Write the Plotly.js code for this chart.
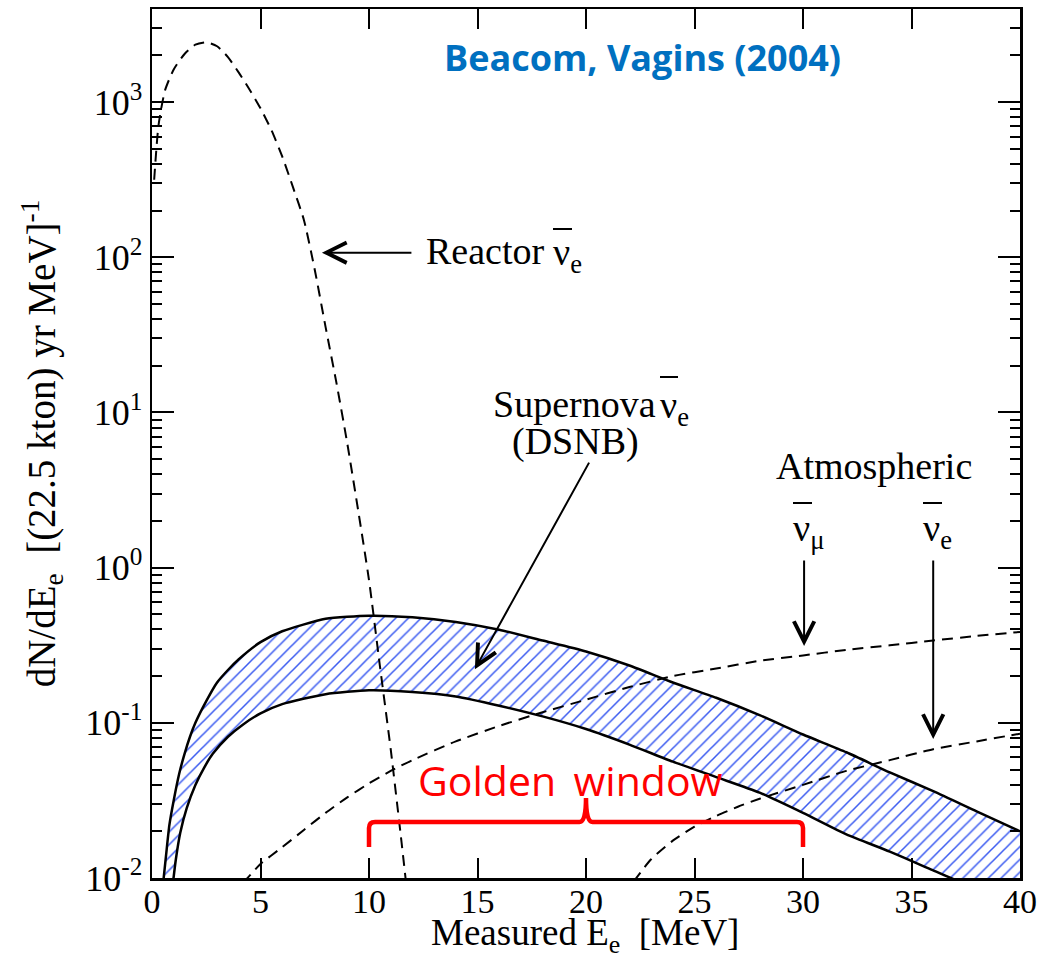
<!DOCTYPE html>
<html>
<head>
<meta charset="utf-8">
<script src="https://cdn.plot.ly/plotly-3.0.1.min.js"></script>
<style>
  html, body { margin: 0; padding: 0; background: #ffffff; }
  #chart { width: 1040px; height: 963px; }
</style>
</head>
<body>
<div id="chart"></div>
<script>
// Positron energy spectra in a 22.5 kton water detector (events / yr / MeV)

// Reactor anti-neutrinos
const reactorEnergy = [0.1, 0.3, 0.6, 1.0, 1.5, 2.0, 2.5, 3.0, 3.5, 4.0, 4.5, 5.0, 5.5, 6.0, 6.5, 7.0, 7.5, 8.0, 8.5, 9.0, 9.5, 10.0, 10.5, 11.0, 11.5, 11.8];
const reactorRate   = [316, 708, 1190, 1622, 2042, 2344, 2427, 2291, 1950, 1549, 1202, 912, 661, 447, 282, 174, 83.2, 35.5, 15.5, 6.31, 2.34, 0.832, 0.234, 0.0676, 0.017, 0.0071];

// Diffuse supernova neutrino background: upper and lower edges of the band
const dsnbHighEnergy = [0.5, 0.65, 0.8, 1.0, 1.25, 1.5, 1.75, 2, 2.5, 3, 3.5, 4, 5, 6, 8, 10, 12, 14, 16, 18, 20, 22, 24, 26, 28, 30, 32, 34, 36, 38, 40];
const dsnbHighRate   = [0.0089, 0.0141, 0.0219, 0.0316, 0.0468, 0.0631, 0.0813, 0.100, 0.138, 0.182, 0.219, 0.257, 0.331, 0.389, 0.468, 0.490, 0.479, 0.447, 0.398, 0.339, 0.288, 0.234, 0.182, 0.145, 0.112, 0.0841, 0.0646, 0.0479, 0.0363, 0.0269, 0.0200];
const dsnbLowEnergy  = [0.95, 1.1, 1.3, 1.6, 2, 2.4, 2.8, 3.5, 4.2, 5, 6, 8, 10, 12, 14, 16, 18, 20, 22, 24, 26, 28, 30, 32, 34, 36, 38, 40];
const dsnbLowRate    = [0.0089, 0.0132, 0.0195, 0.0282, 0.0398, 0.0513, 0.0631, 0.0813, 0.0977, 0.115, 0.132, 0.153, 0.162, 0.158, 0.148, 0.129, 0.110, 0.0912, 0.0724, 0.0562, 0.0447, 0.0355, 0.0263, 0.0191, 0.0148, 0.0112, 0.0085, 0.0066];

// Atmospheric backgrounds
const atmMuEnergy = [4.2, 5, 6, 7, 8, 9, 10, 11, 12, 14, 16, 18, 20, 22, 24, 26, 28, 30, 32, 34, 36, 38, 40];
const atmMuRate   = [0.0093, 0.0123, 0.0158, 0.0204, 0.0263, 0.0331, 0.0407, 0.049, 0.0575, 0.0759, 0.0955, 0.117, 0.141, 0.170, 0.200, 0.224, 0.251, 0.272, 0.295, 0.316, 0.339, 0.363, 0.385];
const atmEEnergy  = [22.2, 23, 24, 25, 26, 27, 28, 30, 32, 34, 36, 38, 40];
const atmERate    = [0.0095, 0.0132, 0.0174, 0.0214, 0.0251, 0.0288, 0.0324, 0.0398, 0.049, 0.0575, 0.0676, 0.0759, 0.0851];

// Energy window free of reactor and atmospheric backgrounds
const goldenWindow = [10, 30];

// Axis ticks
const xTickVals = [0, 5, 10, 15, 20, 25, 30, 35, 40];
const yTickVals = [0.01, 0.1, 1, 10, 100, 1000];
const yTickText = ['10<sup>-2</sup>', '10<sup>-1</sup>', '10<sup>0</sup>', '10<sup>1</sup>', '10<sup>2</sup>', '10<sup>3</sup>'];
const yLogRange = [-2, 3.6];

const minorTicks = [];
for (let d = -2; d <= 3; d++) {
  for (let m = 2; m <= 9; m++) {
    const v = m * Math.pow(10, d);
    if (Math.log10(v) < yLogRange[1]) minorTicks.push(v);
  }
}

const serif = 'Liberation Serif, Times New Roman, serif';
const dashStyle = '11px,7px';

// frame of the plotting area in page pixels, used to place labels
const frame = { left: 152, right: 1020, top: 9, bottom: 878 };
const px = p => (p - frame.left) / (frame.right - frame.left);
const py = p => (frame.bottom - p) / (frame.bottom - frame.top);

const bandX = dsnbHighEnergy.concat(dsnbLowEnergy.slice().reverse());
const bandY = dsnbHighRate.concat(dsnbLowRate.slice().reverse());

const dashed = { color: 'black', width: 2, dash: dashStyle, shape: 'spline', smoothing: 0.6 };
const solid = { color: 'black', width: 2.5, shape: 'spline', smoothing: 0.6 };

const traces = [
  {
    x: bandX, y: bandY, mode: 'lines', fill: 'toself',
    fillcolor: 'rgba(255,255,255,0)',
    fillpattern: { shape: '/', fgcolor: '#3a5af0', bgcolor: 'rgba(255,255,255,0)', size: 9, solidity: 0.17 },
    line: { width: 0 }, hoverinfo: 'skip', showlegend: false
  },
  { x: reactorEnergy, y: reactorRate, mode: 'lines', line: dashed, showlegend: false },
  { x: atmMuEnergy, y: atmMuRate, mode: 'lines', line: dashed, showlegend: false },
  { x: atmEEnergy, y: atmERate, mode: 'lines', line: dashed, showlegend: false },
  { x: dsnbHighEnergy, y: dsnbHighRate, mode: 'lines', line: solid, showlegend: false },
  { x: dsnbLowEnergy, y: dsnbLowRate, mode: 'lines', line: solid, showlegend: false },
  // carrier for the minor-tick axis
  { x: [20], y: [1], yaxis: 'y2', mode: 'none', hoverinfo: 'skip', showlegend: false }
];

// Curly bracket over the golden window (x in MeV, y in paper units)
const gx0 = goldenWindow[0], gx1 = goldenWindow[1], gxm = (gx0 + gx1) / 2;
const yBar = py(822), yEnd = py(847), yTip = py(798), rx = 0.28, ry = 0.007;
const bracketPath =
  `M${gx0},${yEnd} L${gx0},${yBar - ry} Q${gx0},${yBar} ${gx0 + rx},${yBar} ` +
  `L${gxm - 0.3},${yBar} Q${gxm},${yBar} ${gxm},${yTip} Q${gxm},${yBar} ${gxm + 0.3},${yBar} ` +
  `L${gx1 - rx},${yBar} Q${gx1},${yBar} ${gx1},${yBar - ry} L${gx1},${yEnd}`;

// Overbars of the anti-neutrino symbols
const bar = (x0, x1, y) => ({
  type: 'line', xref: 'paper', yref: 'paper',
  x0: px(x0), x1: px(x1), y0: py(y), y1: py(y),
  line: { color: 'black', width: 2 }
});

const arrowBase = {
  text: '', showarrow: true, arrowhead: 5, arrowsize: 2, arrowwidth: 2,
  arrowcolor: 'black', xref: 'x', yref: 'y', standoff: 0, startstandoff: 0
};
const labelFont = { family: serif, size: 38, color: 'black' };
const label = (text, x, y, anchor) => ({
  text: text, xref: 'paper', yref: 'paper', x: px(x), y: py(y),
  xanchor: anchor || 'left', yanchor: 'middle', showarrow: false, font: labelFont
});

const layout = {
  width: 1040, height: 963,
  margin: { l: 152, r: 20, t: 9, b: 85 },
  paper_bgcolor: 'white', plot_bgcolor: 'white',
  showlegend: false,
  xaxis: {
    range: [0, 40], tickvals: xTickVals, ticktext: xTickVals.map(String),
    ticks: 'inside', ticklen: 20, tickwidth: 2, tickcolor: 'black',
    showline: true, linewidth: 2.5, linecolor: 'black', mirror: 'ticks',
    showgrid: false, zeroline: false, ticklabelstandoff: -8,
    tickfont: { family: serif, size: 34, color: 'black' }
  },
  yaxis: {
    type: 'log', range: yLogRange, tickvals: yTickVals, ticktext: yTickText,
    ticks: 'inside', ticklen: 22, tickwidth: 2, tickcolor: 'black',
    showline: true, linewidth: 2.5, linecolor: 'black', mirror: 'ticks',
    showgrid: false, zeroline: false,
    tickfont: { family: serif, size: 36, color: 'black' },
    title: { text: 'dN/dE<sub>e</sub>  [(22.5 kton) yr MeV]<sup>-1</sup>', font: { family: serif, size: 39, color: 'black' }, standoff: 18 }
  },
  yaxis2: {
    type: 'log', range: yLogRange, overlaying: 'y', side: 'left',
    tickvals: minorTicks, showticklabels: false,
    ticks: 'inside', ticklen: 10, tickwidth: 2, tickcolor: 'black',
    showline: true, linewidth: 2.5, linecolor: 'black', mirror: 'ticks',
    showgrid: false, zeroline: false
  },
  shapes: [
    { type: 'path', xref: 'x', yref: 'paper', path: bracketPath, line: { color: '#ff0000', width: 4.5 } },
    bar(553, 572, 229),
    bar(660, 678, 377),
    bar(793, 812, 503),
    bar(923, 942, 503)
  ],
  annotations: [
    // x-axis title
    { text: 'Measured E<sub>e</sub>  [MeV]', xref: 'paper', yref: 'paper', x: px(585), y: py(935), xanchor: 'center', yanchor: 'middle', showarrow: false,
      font: { family: serif, size: 37, color: 'black' } },
    // arrows
    Object.assign({}, arrowBase, { x: 7.83, y: 2.03, ax: 91, ay: 0 }),
    Object.assign({}, arrowBase, { x: 14.88, y: -0.654, ax: 115, ay: -208 }),
    Object.assign({}, arrowBase, { x: 30.05, y: -0.505, ax: 0, ay: -87 }),
    Object.assign({}, arrowBase, { x: 36.0, y: -1.105, ax: 0, ay: -180 }),
    // labels
    label('Reactor', 424, 251),
    label('ν<sub>e</sub>', 551, 255),
    label('Supernova', 491, 404),
    label('ν<sub>e</sub>', 658, 408),
    label('(DSNB)', 575, 441, 'center'),
    label('Atmospheric', 774, 466),
    label('ν<sub>μ</sub>', 791, 531),
    label('ν<sub>e</sub>', 921, 531),
    { text: 'Golden \u2009window', xref: 'x', yref: 'paper', x: 19.3, y: py(780), xanchor: 'center', yanchor: 'middle', showarrow: false,
      font: { family: 'Open Sans, Noto Sans, sans-serif', size: 41, color: '#ff0000' } },
    { text: '<b>Beacom, Vagins (2004)</b>', xref: 'paper', yref: 'paper', x: px(642), y: py(57), xanchor: 'center', yanchor: 'middle', showarrow: false,
      font: { family: 'Open Sans, Noto Sans, sans-serif', size: 36, color: '#0070c0' } }
  ]
};

Plotly.newPlot('chart', traces, layout, { staticPlot: true, displayModeBar: false });
</script>
</body>
</html>
